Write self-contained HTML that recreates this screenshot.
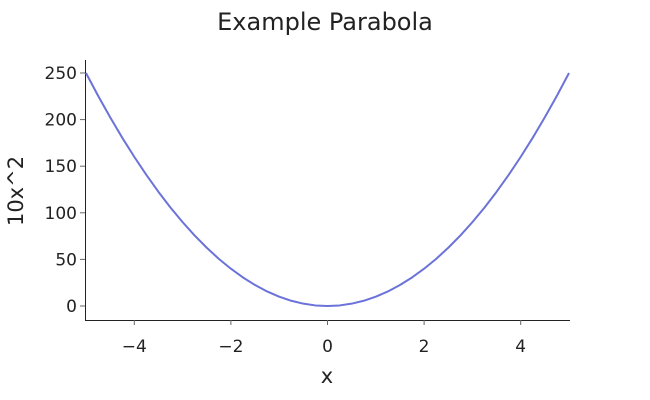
<!DOCTYPE html>
<html><head><meta charset="utf-8"><style>
body{margin:0;background:#fff;}
svg{display:block;font-family:"DejaVu Sans","Liberation Sans",sans-serif;}
</style></head><body>
<svg id="chart" width="650" height="400">
<text x="325" y="30" text-anchor="middle" font-size="24" fill="#222">Example Parabola</text>
<g id="axes"></g>
<g id="plot"></g>
<text x="327" y="383" text-anchor="middle" font-size="21" fill="#222">x</text>
<text transform="translate(23,191) rotate(-90)" text-anchor="middle" font-size="21" fill="#222">10x^2</text>
</svg>
<script>
const xValues=[-5,-4.75,-4.5,-4.25,-4,-3.75,-3.5,-3.25,-3,-2.75,-2.5,-2.25,-2,-1.75,-1.5,-1.25,-1,-0.75,-0.5,-0.25,0,0.25,0.5,0.75,1,1.25,1.5,1.75,2,2.25,2.5,2.75,3,3.25,3.5,3.75,4,4.25,4.5,4.75,5];
const yValues=[250,225.6,202.5,180.6,160,140.6,122.5,105.6,90,75.6,62.5,50.6,40,30.6,22.5,15.6,10,5.6,2.5,0.6,0,0.6,2.5,5.6,10,15.6,22.5,30.6,40,50.6,62.5,75.6,90,105.6,122.5,140.6,160,180.6,202.5,225.6,250];
const xTicks=[-4,-2,0,2,4];
const yTicks=[0,50,100,150,200,250];
const NS="http://www.w3.org/2000/svg";
const xs=v=>327.5+v*48.3;
const ys=v=>306-v*0.932;
const axes=document.getElementById('axes'),plot=document.getElementById('plot');
function mk(tag,attrs,parent){const e=document.createElementNS(NS,tag);for(const k in attrs)e.setAttribute(k,attrs[k]);parent.appendChild(e);return e;}
const yl=mk('line',{x1:85.5,y1:60,x2:85.5,y2:320,stroke:'#222','stroke-width':1},axes);


const xl=mk('line',{x1:85,y1:320.5,x2:570,y2:320.5,stroke:'#222','stroke-width':1},axes);


yTicks.forEach(t=>{
  const tk=mk('line',{x1:80,x2:85,y1:ys(t),y2:ys(t),stroke:'#666'},axes);
  
  
  const lb=mk('text',{x:77,y:ys(t)+6,'text-anchor':'end','font-size':17,fill:'#222'},axes);
  lb.textContent=t;
  
  
});
xTicks.forEach(t=>{
  const tk=mk('line',{x1:xs(t),x2:xs(t),y1:320,y2:325,stroke:'#666'},axes);
  
  
  const lb=mk('text',{x:xs(t),y:352,'text-anchor':'middle','font-size':17,fill:'#222'},axes);
  lb.textContent=t<0?'\u2212'+(-t):t;
  
  
});
const pts=xValues.map((x,i)=>xs(x).toFixed(2)+','+ys(yValues[i]).toFixed(2)).join(' ');
const line=mk('polyline',{points:pts,fill:'none',stroke:'#6b72d8','stroke-width':2,'stroke-linejoin':'round'},plot);


</script>
</body></html>
